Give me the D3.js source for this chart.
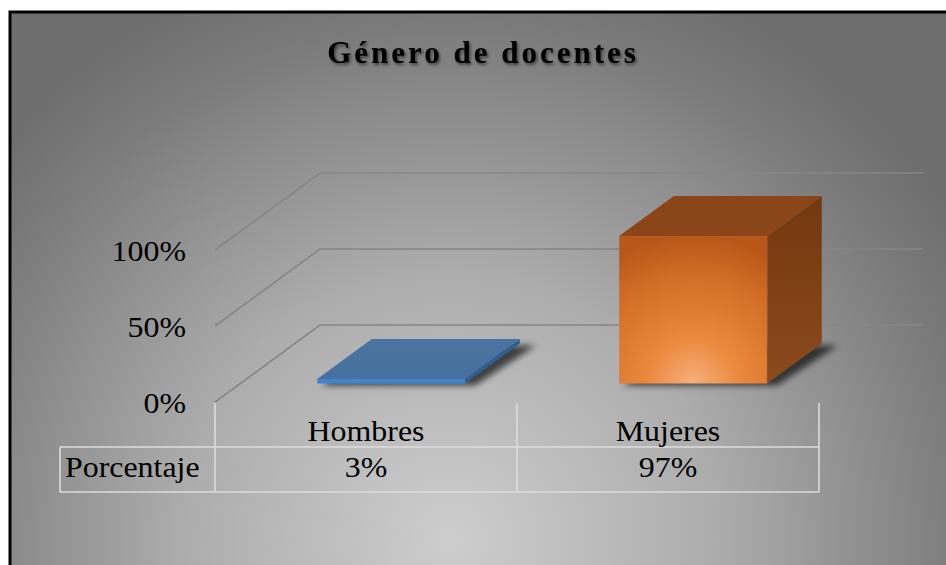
<!DOCTYPE html>
<html>
<head>
<meta charset="utf-8">
<script src="https://cdn.jsdelivr.net/npm/d3@7"></script>
<style>
  body { margin: 0; background: #fff; }
  svg { display: block; }
  svg text { font-family: "Times New Roman", "Liberation Serif", Times, serif; fill: #000; }
</style>
</head>
<body>
<svg width="946" height="565"></svg>
<script>
// data
const categories = ['Hombres', 'Mujeres'];
const values = [0.03, 0.97];
const valueLabels = ['3%', '97%'];
const yTicks = [0, 0.5, 1];
const rowLabel = 'Porcentaje';
const title = 'Género de docentes';

const svg = d3.select('svg');
const defs = svg.append('defs');
const serif = '"Times New Roman", "Liberation Serif", Times, serif';

// background gradient (light at bottom center)
const bg = defs.append('radialGradient')
  .attr('id', 'bg')
  .attr('gradientUnits', 'userSpaceOnUse')
  .attr('cx', 450).attr('cy', 540).attr('r', 600);
bg.append('stop').attr('offset', 0).attr('stop-color', '#cdcdcd');
bg.append('stop').attr('offset', 0.45).attr('stop-color', '#acacac');
bg.append('stop').attr('offset', 0.85).attr('stop-color', '#7c7c7c');
bg.append('stop').attr('offset', 1).attr('stop-color', '#6e6e6e');

const frontGrad = defs.append('radialGradient')
  .attr('id', 'orangeFront')
  .attr('cx', 0.5).attr('cy', 1).attr('r', 1);
frontGrad.append('stop').attr('offset', 0).attr('stop-color', '#f6b07c');
frontGrad.append('stop').attr('offset', 0.3).attr('stop-color', '#ec8a40');
frontGrad.append('stop').attr('offset', 0.75).attr('stop-color', '#d06c25');
frontGrad.append('stop').attr('offset', 1).attr('stop-color', '#b9571a');

const sideGrad = defs.append('linearGradient')
  .attr('id', 'orangeSide').attr('x1', 0).attr('y1', 0).attr('x2', 0).attr('y2', 1);
sideGrad.append('stop').attr('offset', 0).attr('stop-color', '#74380f');
sideGrad.append('stop').attr('offset', 1).attr('stop-color', '#8a4a1c');

const blueTop = defs.append('linearGradient')
  .attr('id', 'blueTop').attr('x1', 0).attr('y1', 0).attr('x2', 0).attr('y2', 1);
blueTop.append('stop').attr('offset', 0).attr('stop-color', '#4d74a0');
blueTop.append('stop').attr('offset', 1).attr('stop-color', '#46709e');

defs.append('filter').attr('id', 'blur')
  .attr('x', '-20%').attr('y', '-20%').attr('width', '140%').attr('height', '140%')
  .append('feGaussianBlur').attr('stdDeviation', 3);

const ts = defs.append('filter').attr('id', 'tshadow');
ts.append('feDropShadow').attr('dx', 1.5).attr('dy', 2).attr('stdDeviation', 1.5)
  .attr('flood-color', '#000').attr('flood-opacity', 0.55);

// frame
svg.append('rect').attr('x', 10).attr('y', 12).attr('width', 950).attr('height', 570)
  .attr('fill', 'url(#bg)').attr('stroke', '#000').attr('stroke-width', 3);

// scales
const x = d3.scaleBand().domain(categories).range([215, 819]);
const y = d3.scaleLinear().domain([0, 1]).range([402, 250]);
const depthX = 105, depthY = -77;
const wallRight = 923;

function sx(t) {
  return function (sel) {
    sel.attr('transform', d => {
      const p = t(d);
      return `translate(${p[0]},${p[1]}) scale(1.1,1)`;
    })
      .attr('font-family', serif)
      .style('font-size', '29px');
  };
}

// grid lines (side wall + back wall)
svg.append('g').selectAll('polyline')
  .data(yTicks)
  .enter()
  .append('polyline')
  .attr('points', d => `215,${y(d)} ${215 + depthX},${y(d) + depthY} ${wallRight},${y(d) + depthY}`)
  .attr('fill', 'none')
  .attr('stroke', '#868686')
  .attr('stroke-width', 1.6);

// y labels
svg.append('g').selectAll('text')
  .data(yTicks)
  .enter()
  .append('text')
  .call(sx(d => [186, y(d) + 11]))
  .attr('text-anchor', 'end')
  .text(d => d3.format('.0%')(d));

// bars
const f0 = 0.24, f1 = 0.76;
const dx0 = depthX * f0, dy0 = depthY * f0, dx1 = depthX * f1, dy1 = depthY * f1;
const bw = x.bandwidth() * 0.49;
const bars = categories.map((c, i) => ({ c, v: values[i], i }));

const barG = svg.append('g');

// floor shadows
barG.selectAll('.shadow')
  .data(bars)
  .enter()
  .append('polygon')
  .classed('shadow', true)
  .attr('points', d => {
    const x0 = x(d.c) + (x.bandwidth() - bw) / 2 + 4;
    const yb = y(0) + 2;
    return [[x0 + dx0, yb + dy0], [x0 + bw + dx0 + 6, yb + dy0],
      [x0 + bw + dx1 + 12, yb + dy1], [x0 + dx1 + 6, yb + dy1]].join(' ');
  })
  .attr('fill', '#000')
  .attr('opacity', 0.65)
  .attr('filter', 'url(#blur)');

const colors = [
  { front: '#3f86cc', top: 'url(#blueTop)', side: '#2f5f8f' },
  { front: 'url(#orangeFront)', top: '#8a4619', side: 'url(#orangeSide)' }
];

bars.forEach(d => {
  const x0 = x(d.c) + (x.bandwidth() - bw) / 2;
  const yt = y(d.v), yb = y(0);
  const col = colors[d.i];
  const g = barG.append('g');
  // side
  g.append('polygon')
    .attr('points', [[x0 + bw + dx0, yt + dy0], [x0 + bw + dx1, yt + dy1],
      [x0 + bw + dx1, yb + dy1], [x0 + bw + dx0, yb + dy0]].join(' '))
    .attr('fill', col.side);
  // top
  g.append('polygon')
    .attr('points', [[x0 + dx0, yt + dy0], [x0 + bw + dx0, yt + dy0],
      [x0 + bw + dx1, yt + dy1], [x0 + dx1, yt + dy1]].join(' '))
    .attr('fill', col.top);
  // front
  g.append('rect')
    .attr('x', x0 + dx0)
    .attr('y', yt + dy0)
    .attr('width', bw)
    .attr('height', Math.max(yb - yt, 0))
    .attr('fill', col.front);
});

// data table
const tableTop = 447, tableBottom = 492, tickTop = 403, tableLeft = 60;
const tg = svg.append('g').attr('stroke', '#dcdcdc').attr('stroke-width', 1.6).attr('fill', 'none');
tg.append('line').attr('x1', tableLeft).attr('x2', x.range()[1]).attr('y1', tableTop).attr('y2', tableTop);
tg.append('line').attr('x1', tableLeft).attr('x2', x.range()[1]).attr('y1', tableBottom).attr('y2', tableBottom);
tg.append('line').attr('x1', tableLeft).attr('x2', tableLeft).attr('y1', tableTop).attr('y2', tableBottom);
tg.selectAll('.vl')
  .data(categories.map(c => x(c)).concat([x.range()[1]]))
  .enter()
  .append('line')
  .attr('x1', d => d).attr('x2', d => d)
  .attr('y1', tickTop).attr('y2', tableBottom);

svg.append('g').selectAll('text')
  .data(categories)
  .enter()
  .append('text')
  .call(sx(d => [x(d) + x.bandwidth() / 2, 441]))
  .attr('text-anchor', 'middle')
  .text(d => d);

svg.append('g').selectAll('text')
  .data(categories.map((c, i) => ({ c, label: valueLabels[i] })))
  .enter()
  .append('text')
  .call(sx(d => [x(d.c) + x.bandwidth() / 2, 477]))
  .attr('text-anchor', 'middle')
  .text(d => d.label);

svg.append('text')
  .datum(rowLabel)
  .call(sx(() => [65, 477]))
  .text(d => d);

// title
svg.append('text')
  .attr('x', 483)
  .attr('y', 63)
  .attr('text-anchor', 'middle')
  .attr('font-family', serif)
  .attr('filter', 'url(#tshadow)')
  .style('font-size', '31px')
  .style('font-weight', 'bold')
  .style('letter-spacing', '3px')
  .text(title);
</script>
</body>
</html>
